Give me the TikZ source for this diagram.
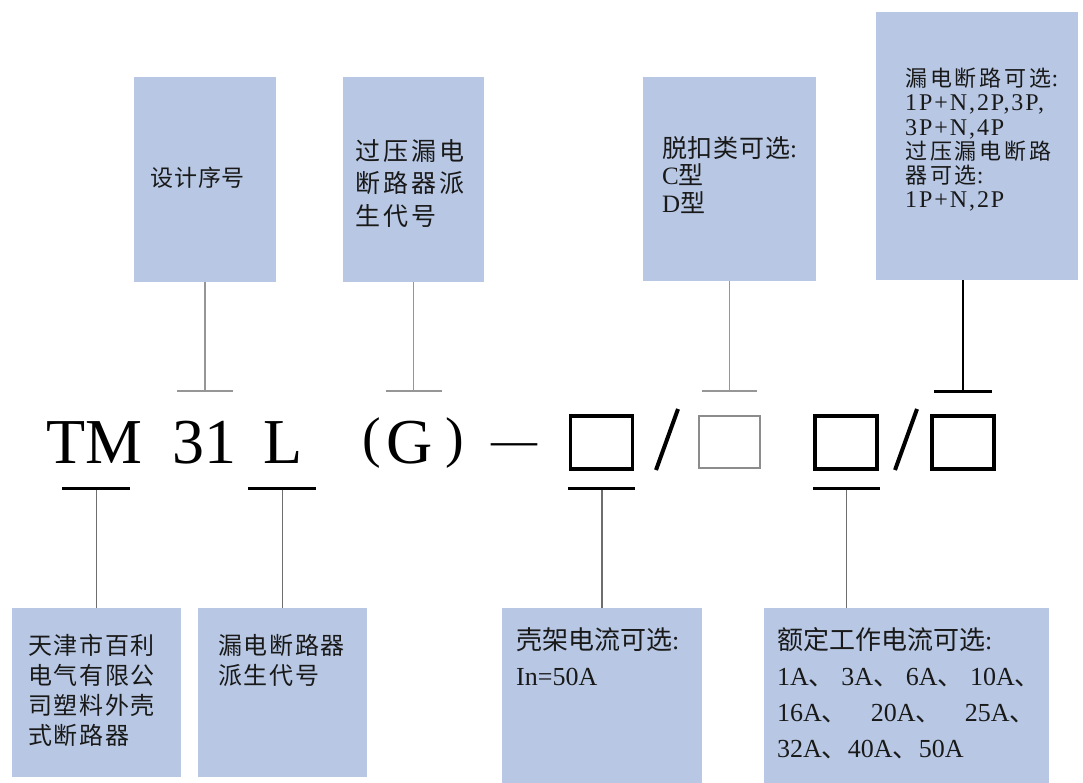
\documentclass[tikz,border=0pt]{standalone}
\usepackage{fontspec}
\setmainfont{Liberation Serif}
\newfontfamily\cjk{Noto Sans CJK SC}
\newfontfamily\cjkA[LetterSpace=4]{Noto Sans CJK SC}
\newfontfamily\cjkB[LetterSpace=13]{Noto Sans CJK SC}
\newfontfamily\cjkC[LetterSpace=3]{Noto Sans CJK SC}
\newfontfamily\cjkD[LetterSpace=7]{Noto Sans CJK SC}
\newfontfamily\latW[LetterSpace=8]{Liberation Serif}
\definecolor{boxblue}{RGB}{184,200,228}
\definecolor{stemgray}{RGB}{150,150,150}
\definecolor{stemdark}{RGB}{110,110,110}
\definecolor{sqgray}{RGB}{140,140,140}
\newcommand\lat[1]{{\rmfamily #1}}
\newcommand\latw[1]{{\latW\fontsize{24}{24.2}\selectfont #1}}
\begin{document}
\begin{tikzpicture}[x=1pt,y=-1pt,
  box/.style={fill=boxblue,draw=none,inner sep=0,outer sep=0},
  sqk/.style={draw=black,line width=3.5,inner sep=0,outer sep=0,minimum width=62,minimum height=53},
  sqg/.style={draw=sqgray,line width=2,inner sep=0,outer sep=0,minimum width=61,minimum height=52},
  tstem/.style={draw=stemgray,line width=1.6},
  tbar/.style={draw=stemgray,line width=2.2},
  kstem/.style={draw=black,line width=2.5},
  kbar/.style={draw=black,line width=3},
  bstem/.style={draw=stemdark,line width=1.4},
  slash/.style={draw=black,line width=4},
  big/.style={font=\fontsize{64}{64}\selectfont,inner sep=0,anchor=base west},
  txt/.style={inner sep=0,anchor=north west,align=left,text=black!90},
]
\useasboundingbox[fill=white] (0,0) rectangle (1083,782);

% top boxes
\node[box,minimum width=142,minimum height=205] (t1) at (205,179.5) {};
\node[box,minimum width=141,minimum height=205] (t2) at (413.5,179.5) {};
\node[box,minimum width=173,minimum height=204] (t3) at (729.5,179) {};
\node[box,minimum width=202,minimum height=268] (t4) at (977,146) {};
% bottom boxes
\node[box,minimum width=169,minimum height=169] (b1) at (96.5,692.5) {};
\node[box,minimum width=169,minimum height=169] (b2) at (282.5,692.5) {};
\node[box,minimum width=200,minimum height=176] (b3) at (602,696) {};
\node[box,minimum width=285,minimum height=176] (b4) at (906.5,696) {};

% top box texts
\node[txt,font=\fontsize{23}{30}\selectfont\cjkA] (t1t) at (150,167) {设计序号};
\node[txt,font=\fontsize{25}{32.5}\selectfont\cjkB] (t2t) at (355,139) {过压漏电\\断路器派\\生代号};
\node[txt,font=\fontsize{25}{27.5}\selectfont\cjkC] (t3t) at (662,136) {脱扣类可选\lat{:}\\\lat{C}型\\\lat{D}型};
\node[txt,font=\fontsize{22}{24.2}\selectfont\cjkB] (t4t) at (905,68) {漏电断路可选\latw{:}\\\latw{1P+N,2P,3P,}\\\latw{3P+N,4P}\\过压漏电断路\\器可选\latw{:}\\\latw{1P+N,2P}};

% bottom box texts
\node[txt,font=\fontsize{24}{30}\selectfont\cjkD] (b1t) at (28,634) {天津市百利\\电气有限公\\司塑料外壳\\式断路器};
\node[txt,font=\fontsize{24}{30}\selectfont\cjkD] (b2t) at (218,634) {漏电断路器\\派生代号};
\node[txt,font=\fontsize{26}{36}\selectfont\cjk] (b3t) at (516,627) {壳架电流可选\lat{:}\\\lat{In=50A}};
\node[txt,font=\fontsize{26}{36}\selectfont\cjk] (b4t) at (777,627) {额定工作电流可选\lat{:}\\\lat{1A}、\lat{ 3A}、\lat{ 6A}、\lat{ 10A}、\\\lat{16A}、\hspace{23pt}\lat{20A}、\hspace{23pt}\lat{25A}、\\\lat{32A}、\lat{40A}、\lat{50A}};

% main code line
\node[big] (tm) at (46,463) {TM};
\node[big] (n31) at (172,463) {31};
\node[big] (nl) at (263,463) {L};
\node[big,font=\fontsize{56}{56}\selectfont] (lp) at (362,456) {(};
\node[big] (ng) at (386,463) {G};
\node[big,font=\fontsize{56}{56}\selectfont,anchor=base east] (rp) at (464,456) {)};
\node[big,font=\fontsize{46}{46}\selectfont] (dash) at (491,455) {—};

\node[sqk] (sq1) at (601.5,442.3) {};
\node[sqg] (sq2) at (729,442.3) {};
\node[sqk] (sq3) at (846,442.3) {};
\node[sqk] (sq4) at (963,442.3) {};
\coordinate (s1a) at (656,470);
\coordinate (s1b) at (678,409);
\coordinate (s2a) at (895,470);
\coordinate (s2b) at (917,409);
\draw[slash] (s1a) -- (s1b);
\draw[slash] (s2a) -- (s2b);

% top connectors
\coordinate (c1) at (205,391);   \coordinate (c1l) at (177,391); \coordinate (c1r) at (233,391);
\coordinate (c2) at (413.5,391); \coordinate (c2l) at (386,391); \coordinate (c2r) at (442,391);
\coordinate (c3) at (729.5,391); \coordinate (c3l) at (702,391); \coordinate (c3r) at (757,391);
\coordinate (c4) at (963,391);   \coordinate (c4l) at (934,391); \coordinate (c4r) at (992,391);
\draw[tstem] (t1.south) -- (c1);
\draw[tbar] (c1l) -- (c1r);
\draw[tstem] (t2.south) -- (c2);
\draw[tbar] (c2l) -- (c2r);
\draw[tstem] (t3.south) -- (c3);
\draw[tbar] (c3l) -- (c3r);
\draw[kstem] (c4 |- t4.south) -- (c4);
\draw[kbar] (c4l) -- (c4r);

% bottom connectors
\coordinate (d1) at (96.5,488);  \coordinate (d1l) at (62,488);  \coordinate (d1r) at (130,488);
\coordinate (d2) at (282.5,488); \coordinate (d2l) at (248,488); \coordinate (d2r) at (316,488);
\coordinate (d3) at (602,488);   \coordinate (d3l) at (568,488); \coordinate (d3r) at (635,488);
\coordinate (d4) at (846.5,488); \coordinate (d4l) at (813,488); \coordinate (d4r) at (880,488);
\draw[bstem] (d1) -- (b1.north);
\draw[kbar] (d1l) -- (d1r);
\draw[bstem] (d2) -- (b2.north);
\draw[kbar] (d2l) -- (d2r);
\draw[bstem] (d3) -- (b3.north);
\draw[kbar] (d3l) -- (d3r);
\draw[bstem] (d4) -- (d4 |- b4.north);
\draw[kbar] (d4l) -- (d4r);
\end{tikzpicture}
\end{document}
